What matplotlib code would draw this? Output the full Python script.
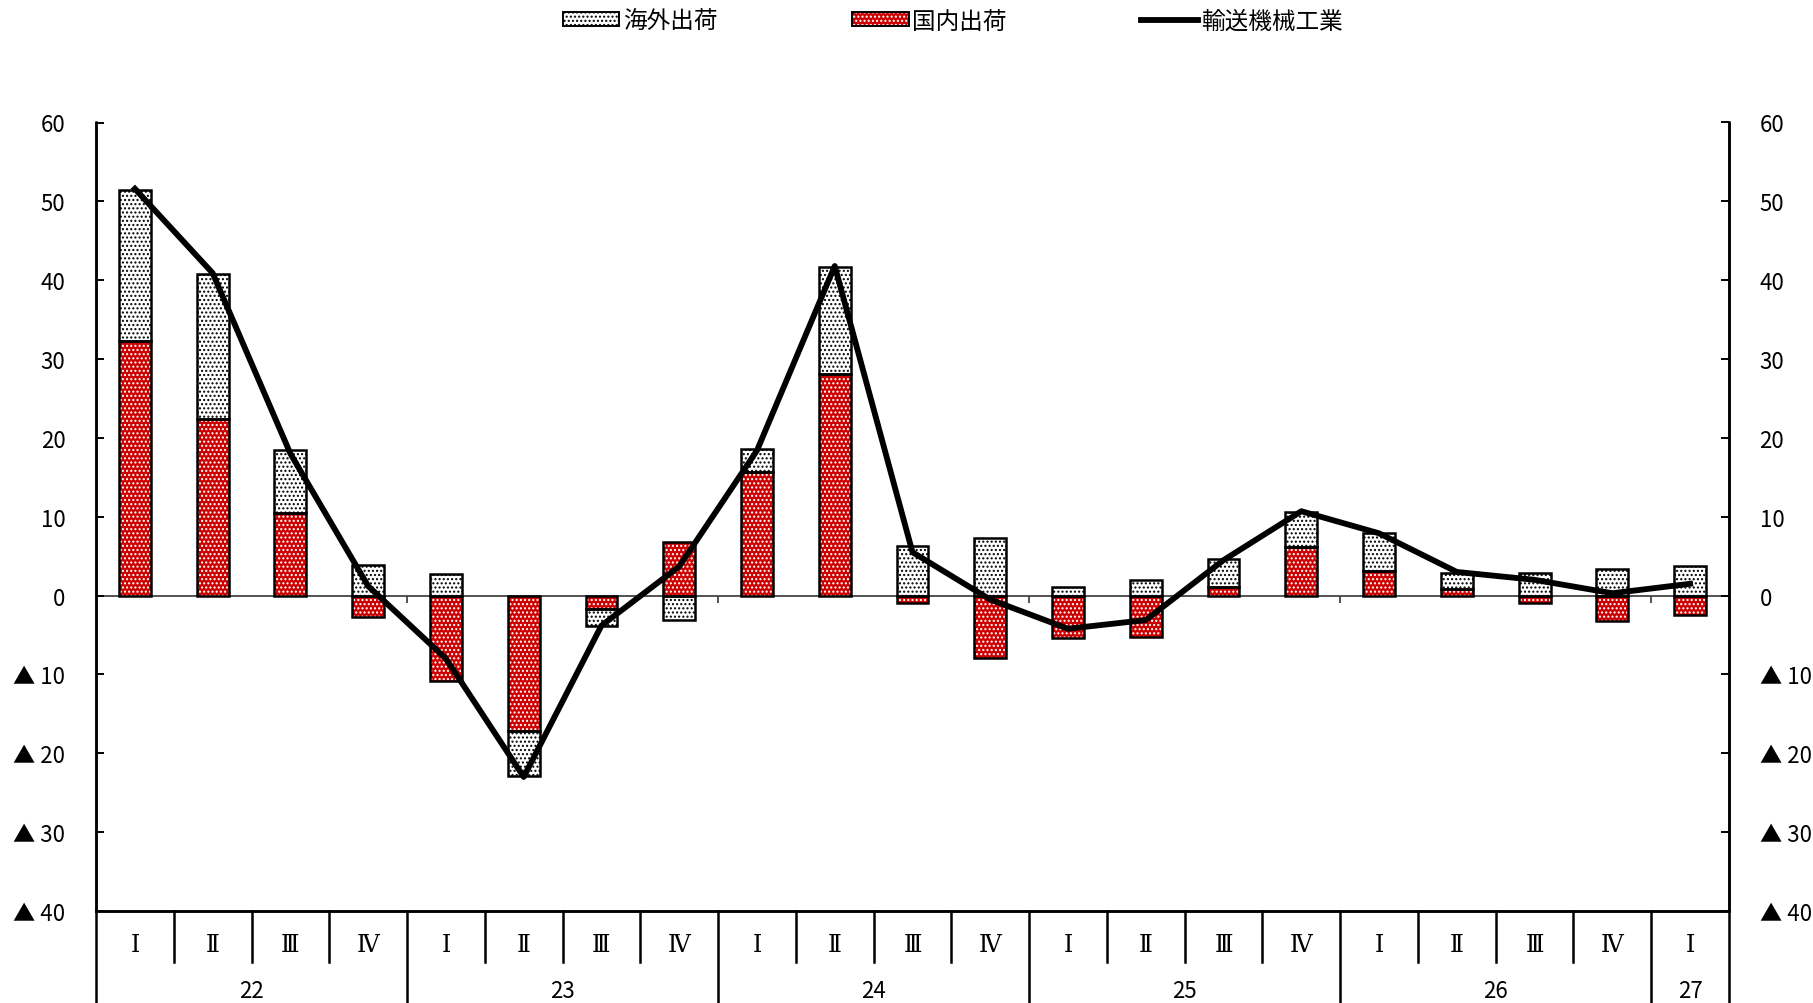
import numpy as np
import matplotlib
matplotlib.use("Agg")
import matplotlib.pyplot as plt
from matplotlib.patches import Patch
from matplotlib.lines import Line2D
from matplotlib.transforms import blended_transform_factory

plt.rcParams['font.family'] = ['Noto Sans CJK JP', 'DejaVu Sans']
plt.rcParams['hatch.linewidth'] = 1.0

quarters = ["Ⅰ", "Ⅱ", "Ⅲ", "Ⅳ"] * 5 + ["Ⅰ"]
years = ["22", "23", "24", "25", "26", "27"]
year_sizes = [4, 4, 4, 4, 4, 1]

# contribution of overseas shipments
overseas = [19.2, 18.4, 8.0, 3.9, 2.7, -5.7, -2.2, -3.1, 2.9, 13.6, 6.3,
            7.3, 1.1, 2.0, 3.5, 4.4, 4.8, 2.0, 2.9, 3.4, 3.8]
# contribution of domestic shipments
domestic = [32.3, 22.4, 10.5, -2.7, -10.8, -17.2, -1.7, 6.8, 15.7, 28.1, -1.0,
            -7.9, -5.4, -5.2, 1.1, 6.2, 3.1, 0.9, -1.0, -3.2, -2.4]
# transport machinery industry, total
transport = [51.6, 40.9, 18.0, 1.2, -8.0, -23.0, -3.8, 3.7, 18.4, 41.8, 5.5,
             -0.5, -4.2, -3.1, 4.5, 10.7, 7.9, 3.0, 2.0, 0.3, 1.5]

labels = ["海外出荷", "国内出荷", "輸送機械工業"]
yticks = [-40, -30, -20, -10, 0, 10, 20, 30, 40, 50, 60]

RED = "#cc0000"
x = np.arange(len(quarters))
dom = np.array(domestic)
ovs = np.array(overseas)
ovs_bottom = np.where(np.sign(ovs) == np.sign(dom), dom, 0.0)

fig = plt.figure(figsize=(18.13, 10.04), dpi=100)
ax = fig.add_axes([96 / 1813, 92 / 1004, (1729 - 96) / 1813, (912 - 123.5) / 1004])

W = 0.41
HATCH = "...."
# domestic: red with white dots
ax.bar(x, dom, W, color=RED, edgecolor="white", hatch=HATCH, linewidth=0, zorder=2)
ax.bar(x, dom, W, facecolor="none", edgecolor="black", linewidth=1.8, zorder=3)
# overseas: white with black dots
ax.bar(x, ovs, W, bottom=ovs_bottom, color="white", edgecolor="black", hatch=HATCH,
       linewidth=0, zorder=2)
ax.bar(x, ovs, W, bottom=ovs_bottom, facecolor="none", edgecolor="black",
       linewidth=1.8, zorder=3)

ax.plot(x, transport, color="black", lw=4.2, zorder=4, solid_joinstyle="round")

ax.axhline(0, color="#444444", lw=1.3, zorder=1)
year_bounds = np.cumsum(year_sizes)[:-1] - 0.5
ax.vlines(year_bounds, -1.0, 0, color="#444444", lw=1.3, zorder=1)

ax.set_xlim(-0.5, len(quarters) - 0.5)
ax.set_ylim(-40, 60)

def fmt(v):
    return f"▲ {abs(v)}" if v < 0 else f"{v}"

ax.set_yticks(yticks)
ax.set_yticklabels([fmt(v) for v in yticks])
ax.tick_params(axis="y", direction="in", length=6, width=1.4, labelsize=16, pad=22)
ax.set_xticks([])
ax2 = ax.twinx()
ax2.set_ylim(ax.get_ylim())
ax2.set_yticks(yticks)
ax2.set_yticklabels([fmt(v) for v in yticks])
ax2.tick_params(axis="y", direction="in", length=6, width=1.4, labelsize=16, pad=22)
for a in (ax, ax2):
    a.spines["top"].set_visible(False)
    for s in ("left", "right", "bottom"):
        a.spines[s].set_linewidth(1.8)
        a.spines[s].set_color("black")

# category table below the plot
trans = blended_transform_factory(ax.transData, ax.transAxes)
for i, q in enumerate(quarters):
    ax.text(i, -0.042, q, transform=trans, ha="center", va="center",
            fontsize=17, family=["DejaVu Serif", "Noto Sans CJK JP"])
for b in np.arange(len(quarters) - 1) + 0.5:
    bottom = -0.15 if b in year_bounds else -0.0647
    ax.plot([b, b], [0, bottom], transform=trans, color="black", lw=1.8, clip_on=False)
for s in (-0.5, len(quarters) - 0.5):
    ax.plot([s, s], [0, -0.15], transform=trans, color="black", lw=1.8, clip_on=False)
start = 0
for y, n in zip(years, year_sizes):
    ax.text(start + (n - 1) / 2, -0.101, y, transform=trans, ha="center", va="center",
            fontsize=16)
    start += n

# legend
h_ovs = (Patch(facecolor="white", edgecolor="black", hatch=HATCH, linewidth=0),
         Patch(facecolor="none", edgecolor="black", linewidth=1.4))
h_dom = (Patch(facecolor=RED, edgecolor="white", hatch=HATCH, linewidth=0),
         Patch(facecolor="none", edgecolor="black", linewidth=1.4))
h_line = Line2D([], [], color="black", lw=4.2)
fig.legend([h_ovs, h_dom, h_line], labels, ncol=3, loc="center",
           bbox_to_anchor=(953 / 1813, 1 - 22 / 1004), frameon=False,
           fontsize=17, handlelength=2.4, handleheight=0.5, handletextpad=0.15,
           columnspacing=5.7)

fig.savefig("out.png", dpi=100)
